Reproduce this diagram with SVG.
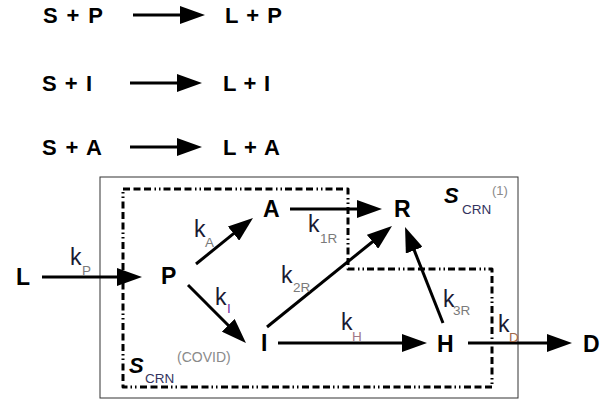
<svg xmlns="http://www.w3.org/2000/svg" width="609" height="403" viewBox="0 0 609 403">
  <style>
    .lbl { font-family: "Liberation Sans", Arial, sans-serif; font-weight: bold; font-size: 22px; fill: #000; }
    .node { font-family: "Liberation Sans", Arial, sans-serif; font-weight: bold; font-size: 23px; fill: #000; }
    .k { font-family: "Liberation Sans", Arial, sans-serif; font-size: 23px; fill: #1a1a33; }
    .sub { font-family: "Liberation Sans", Arial, sans-serif; font-size: 13.5px; fill: #7a7a7a; }
    .sS { font-family: "Liberation Sans", Arial, sans-serif; font-weight: bold; font-style: italic; font-size: 22px; fill: #000; }
    .crn { font-family: "Liberation Sans", Arial, sans-serif; font-size: 13.5px; fill: #33335e; }
    .note { font-family: "Liberation Sans", Arial, sans-serif; font-size: 14px; fill: #8a8a8a; }
    .arr { stroke: #000; stroke-width: 3; fill: none; marker-end: url(#head); }
  </style>
  <defs>
    <marker id="head" markerUnits="userSpaceOnUse" markerWidth="26" markerHeight="18" viewBox="0 0 26 18" refX="2" refY="9" orient="auto">
      <path d="M0,0 L25,9 L0,18 z" fill="#000"/>
    </marker>
  </defs>

  <!-- reaction equations -->
  <g id="reactions">
    <text class="lbl" x="43" y="23" textLength="60" lengthAdjust="spacing">S + P</text>
    <text class="lbl" x="225" y="23" textLength="57" lengthAdjust="spacing">L + P</text>
    <text class="lbl" x="42" y="91" textLength="50" lengthAdjust="spacing">S + I</text>
    <text class="lbl" x="223" y="91" textLength="47" lengthAdjust="spacing">L + I</text>
    <text class="lbl" x="42" y="155" textLength="60" lengthAdjust="spacing">S + A</text>
    <text class="lbl" x="223" y="155" textLength="57" lengthAdjust="spacing">L + A</text>
  </g>

  <!-- system boundaries -->
  <g id="boundaries">
    <rect x="100" y="177" width="418" height="221" fill="none" stroke="#333" stroke-width="1"/>
    <path d="M123,189 H348 V269 H492 V387 H123 Z" fill="none" stroke="#000" stroke-width="3"
          stroke-dasharray="7 3.5 7 3.5 7 3.5 1.5 3 1.5 3" stroke-linejoin="round"/>
  </g>

  <!-- connectors -->
  <g id="connectors">
    <line class="arr" x1="133" y1="15" x2="182" y2="15"/>
    <line class="arr" x1="130" y1="83" x2="179" y2="83"/>
    <line class="arr" x1="130" y1="147" x2="179" y2="147"/>
    <line class="arr" x1="42" y1="277" x2="119" y2="277"/>
    <line class="arr" x1="290" y1="209" x2="359" y2="209"/>
    <line class="arr" x1="196" y1="264" x2="235.1" y2="232.4"/>
    <line class="arr" x1="188" y1="285" x2="229.7" y2="326.7"/>
    <line class="arr" x1="267" y1="327" x2="374.1" y2="240.5"/>
    <line class="arr" x1="443" y1="323" x2="413.5" y2="248.4"/>
    <line class="arr" x1="278" y1="343" x2="404" y2="343"/>
    <line class="arr" x1="468" y1="343" x2="549" y2="343"/>
  </g>

  <!-- rate constants -->
  <g id="rates">
    <text class="k" x="70" y="265">k</text><text class="sub" x="82" y="275">P</text>
    <text class="k" x="194" y="237">k</text><text class="sub" x="205" y="247">A</text>
    <text class="k" x="308" y="232">k</text><text class="sub" x="320" y="243">1R</text>
    <text class="k" x="215" y="305">k</text><text class="sub" x="227" y="313" style="fill:#7030a0">I</text>
    <text class="k" x="281" y="283">k</text><text class="sub" x="293" y="292">2R</text>
    <text class="k" x="341" y="330">k</text><text class="sub" x="352" y="341" style="fill:#a07888">H</text>
    <text class="k" x="443" y="307">k</text><text class="sub" x="453" y="315">3R</text>
    <text class="k" x="498" y="332">k</text><text class="sub" x="509" y="342" style="fill:#a06848">D</text>
  </g>

  <!-- species nodes -->
  <g id="node-L"><text class="node" x="16" y="285">L</text></g>
  <g id="node-P"><text class="node" x="161" y="284">P</text></g>
  <g id="node-A"><text class="node" x="263" y="217">A</text></g>
  <g id="node-R"><text class="node" x="394" y="217">R</text></g>
  <g id="node-I"><text class="node" x="261" y="351">I</text></g>
  <g id="node-H"><text class="node" x="437" y="352">H</text></g>
  <g id="node-D"><text class="node" x="583" y="352">D</text></g>

  <!-- system labels -->
  <g id="label-scrn1">
    <text class="sS" x="444" y="203">S</text>
    <text class="crn" x="462" y="214">CRN</text>
    <text class="note" x="492" y="195" style="font-size:13px">(1)</text>
  </g>
  <g id="label-scrn-covid">
    <text class="sS" x="129" y="373">S</text>
    <text class="crn" x="145" y="383">CRN</text>
    <text class="note" x="177" y="362">(COVID)</text>
  </g>
</svg>
